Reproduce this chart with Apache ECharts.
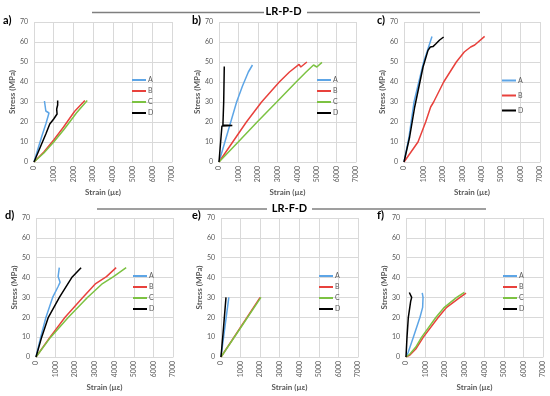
<!DOCTYPE html>
<html><head><meta charset="utf-8">
<script src="https://cdn.jsdelivr.net/npm/echarts@6/dist/echarts.min.js"></script>
<style>html,body{margin:0;padding:0;background:#fff}#c{width:550px;height:396px}</style>
</head><body><div id="c"></div>
<script>
// ---- data (strain µε, stress MPa) ----
const xTicks = [0,1000,2000,3000,4000,5000,6000,7000];
const yTicks = [0,10,20,30,40,50,60,70];
const groupTitles = ['LR-P-D','LR-F-D'];
const panelLabels = ['a)','b)','c)','d)','e)','f)'];

const aA = [[0,0],[200,6.5],[400,13],[600,19],[760,24.5],[700,25.2],[600,25.5],[560,26.5],[530,30.5]];
const aB = [[0,0],[500,5],[1000,11],[1500,17.5],[2000,24.5],[2100,25.8],[2580,30.8]];
const aC = [[0,0],[500,4.5],[1000,10],[1500,16],[2000,22.5],[2150,24.5],[2200,25.5],[2700,30.8]];
const aD = [[0,0],[300,7],[600,14],[800,19],[1000,21.5],[1170,24],[1270,25],[1150,26.5],[1200,28.5],[1200,30.8]];

const bA = [[0,0],[300,10],[600,20],[900,30],[1200,38],[1500,45],[1710,48.5]];
const bB = [[0,0],[700,10],[1400,20],[2175,30],[3080,40],[3600,45],[4090,48.8],[4180,47.5],[4490,50]];
const bC = [[0,0],[980,10],[1950,20],[2950,30],[3940,40],[4450,45],[4830,48.5],[5000,47.5],[5260,49.8]];
const bD = [[0,0],[150,18],[680,18.3],[200,18.5],[240,30],[270,47.8]];

const cA = [[0,0],[250,12],[515,30],[1012,50],[1250,57],[1440,62.8]];
const cB = [[0,0],[720,10],[1115,20],[1372,27.5],[1526,30],[2041,40],[2693,50],[3100,55],[3430,57.5],[3640,58.5],[4150,62.8]];
const cD = [[0,0],[290,12.5],[550,27.5],[980,47.5],[1235,55.8],[1355,57.5],[1490,57.7],[1630,59],[1835,61],[2040,62.5]];

const dA = [[0,0],[240,10],[510,20],[850,30],[1130,35.5],[1230,37.6],[1260,38.5],[1130,40.5],[1190,45]];
const dB = [[0,0],[717,10],[1485,20],[2390,30],[3050,37],[3600,40.5],[4096,45]];
const dC = [[0,0],[750,10],[1655,20],[2628,30],[3400,37],[3960,40.5],[4607,45]];
const dD = [[0,0],[290,10],[631,20],[1195,30],[1826,40],[2304,45]];

const eA = [[0,0],[200,15],[400,30]];
const eB = [[0,0],[1000,15],[2000,30]];
const eC = [[0,0],[1020,15],[2040,30]];
const eD = [[0,0],[130,15],[255,30]];

const fA = [[0,0],[100,2],[375,10],[715,20],[850,25],[870,30],[830,32.3]];
const fB = [[0,0],[200,1],[500,4],[886,10],[1652,20],[2078,25],[2760,30],[3066,32.2]];
const fC = [[0,0],[200,1.5],[500,5],[800,10],[1533,20],[1959,25],[2589,30],[2981,32.5]];
const fD = [[0,0],[51,10],[119,20],[238,28],[290,30],[204,31],[170,32.5]];

const panels = [
  {A:aA,B:aB,C:aC,D:aD},
  {A:bA,B:bB,C:bC,D:bD},
  {A:cA,B:cB,D:cD},
  {A:dA,B:dB,C:dC,D:dD},
  {A:eA,B:eB,C:eC,D:eD},
  {A:fA,B:fB,C:fC,D:fD}
];

// ---- layout / style ----
const colors = {A:'#5DA5E6',B:'#E8413C',C:'#7CC242',D:'#000000'};
const FONT = 'Lato, "Open Sans", sans-serif';
const gridPos = [
  {left:34,top:22,width:138,height:140},
  {left:219,top:22,width:137,height:140},
  {left:404,top:22,width:136,height:140},
  {left:36,top:218,width:137,height:139},
  {left:221,top:218,width:137,height:139},
  {left:406,top:218,width:137,height:139}
];
const legendPos = [
  {left:132,top:75.5,gap:2},{left:317,top:75.5,gap:2},{left:502,top:76,gap:6},
  {left:133,top:271.5,gap:2},{left:319,top:271.5,gap:2},{left:503,top:271.5,gap:2}
];
const labelPos = [[3,22],[192,22],[377,22],[5,217],[192,217],[377,217]];

const grid=[],xAxis=[],yAxis=[],series=[],legend=[],graphic=[];
panels.forEach((p,i)=>{
  grid.push({left:gridPos[i].left,top:gridPos[i].top,width:gridPos[i].width,height:gridPos[i].height});
  xAxis.push({type:'value',gridIndex:i,min:xTicks[0],max:xTicks[xTicks.length-1],interval:1000,
    axisLine:{show:true,lineStyle:{color:'#d9d9d9'}},axisTick:{show:false},
    splitLine:{show:true,lineStyle:{color:'#d9d9d9',width:1}},
    axisLabel:{show:true,rotate:90,fontSize:7,color:'#595959',margin:4,fontFamily:FONT,
      hideOverlap:false,formatter:function(v){return String(v);}},
    name:'Strain (µε)',nameLocation:'middle',nameGap:26,
    nameTextStyle:{fontSize:8,fontWeight:'bold',color:'#595959',fontFamily:FONT}});
  yAxis.push({type:'value',gridIndex:i,min:yTicks[0],max:yTicks[yTicks.length-1],interval:10,
    axisLine:{show:false},axisTick:{show:false},
    splitLine:{show:true,lineStyle:{color:'#d9d9d9',width:1}},
    axisLabel:{fontSize:7,color:'#595959',margin:6,fontFamily:FONT},
    name:'Stress (MPa)',nameLocation:'middle',nameGap:18,
    nameTextStyle:{fontSize:8,fontWeight:'bold',color:'#595959',fontFamily:FONT}});
  const names = Object.keys(p);
  names.forEach(n=>{
    series.push({type:'line',name:n,xAxisIndex:i,yAxisIndex:i,data:p[n],
      showSymbol:false,symbol:'none',itemStyle:{color:colors[n]},
      lineStyle:{color:colors[n],width:1.5}});
  });
  legend.push({data:names,orient:'vertical',left:legendPos[i].left,top:legendPos[i].top,
    itemGap:legendPos[i].gap,itemWidth:14,itemHeight:2,icon:'rect',selectedMode:false,padding:0,
    textStyle:{fontSize:7,color:'#595959',lineHeight:9,fontFamily:FONT,padding:[0,0,0,-3]}});
  graphic.push({type:'text',left:labelPos[i][0],top:labelPos[i][1]-7,
    style:{text:panelLabels[i],font:'bold 11px '+FONT,fill:'#000'}});
});

// group titles with rules
const titleRows = [
  {y:12.5,cx:283.5,l1:[92,264],l2:[307,480]},
  {y:209,cx:289.5,l1:[97,267],l2:[312,486]}
];
titleRows.forEach((r,k)=>{
  graphic.push({type:'line',shape:{x1:r.l1[0],y1:r.y,x2:r.l1[1],y2:r.y},style:{stroke:'#7f7f7f',lineWidth:1.5}});
  graphic.push({type:'line',shape:{x1:r.l2[0],y1:r.y,x2:r.l2[1],y2:r.y},style:{stroke:'#7f7f7f',lineWidth:1.5}});
  graphic.push({type:'text',x:r.cx,y:r.y-1,
    style:{text:groupTitles[k],font:'bold 11px '+FONT,fill:'#000',textAlign:'center',textVerticalAlign:'middle'}});
});

const chart = echarts.init(document.getElementById('c'));
chart.setOption({animation:false,grid,xAxis,yAxis,series,legend,graphic});
</script></body></html>
